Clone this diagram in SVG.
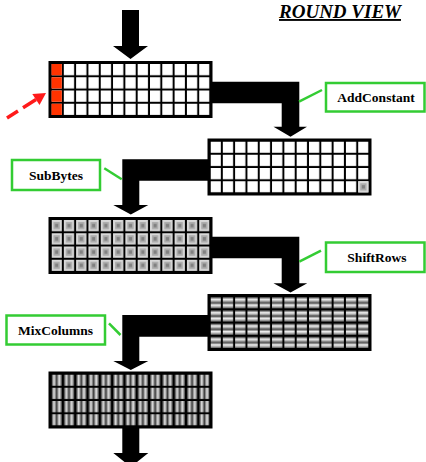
<svg xmlns="http://www.w3.org/2000/svg" width="426" height="462" viewBox="0 0 426 462">
<style>
.lbl{fill:#fff;stroke:#33cc33;stroke-width:2.5}
.lt{font-family:"Liberation Serif","Times New Roman",serif;font-weight:bold;font-size:13.5px;fill:#000;text-anchor:middle}
.lead{stroke:#33cc33;stroke-width:2.5}
.conn{fill:#000}
</style>
<defs>
<linearGradient id="gh" x1="0" y1="0" x2="0" y2="1">
<stop offset="0" stop-color="#333"/><stop offset="0.22" stop-color="#f4f4f4"/><stop offset="0.45" stop-color="#808080"/><stop offset="0.5" stop-color="#333"/><stop offset="0.72" stop-color="#f4f4f4"/><stop offset="1" stop-color="#707070"/>
</linearGradient>
<linearGradient id="gv" x1="0" y1="0" x2="1" y2="0">
<stop offset="0" stop-color="#2a2a2a"/><stop offset="0.25" stop-color="#eaeaea"/><stop offset="0.5" stop-color="#3a3a3a"/><stop offset="0.75" stop-color="#eaeaea"/><stop offset="1" stop-color="#555"/>
</linearGradient>
<g id="sbox">
<rect width="10.31" height="11.25" fill="#d8d8d8"/>
<rect x="2" y="2" width="6.31" height="7.25" fill="#aaa"/>
<rect x="3.6" y="3.9" width="3.1" height="3.4" fill="#808080"/>
</g>
<pattern id="pw" patternUnits="userSpaceOnUse" x="3" y="3" width="12.31" height="13.25">
<rect width="10.31" height="11.25" fill="#fff"/>
</pattern>
<pattern id="ps" patternUnits="userSpaceOnUse" x="3" y="3" width="12.31" height="13.25">
<use href="#sbox"/>
</pattern>
<pattern id="ph" patternUnits="userSpaceOnUse" x="3" y="3" width="12.31" height="13.25">
<rect width="10.31" height="11.25" fill="url(#gh)"/>
</pattern>
<pattern id="pv" patternUnits="userSpaceOnUse" x="3" y="3" width="12.31" height="13.25">
<rect width="10.31" height="11.25" fill="url(#gv)"/>
</pattern>
</defs>
<rect width="426" height="462" fill="#fff"/>

<text x="340" y="18" font-family="'Liberation Serif','Times New Roman',serif" font-weight="bold" font-style="italic" font-size="19" text-anchor="middle" text-decoration="underline">ROUND VIEW</text>

<g id="connectors">
<polygon class="conn" points="122,10 139,10 139,46 148,46 130.5,59 113,46 122,46"/>
<polygon class="conn" points="210,81.7 299.3,81.7 299.3,126.7 307,126.7 290.5,136.7 273.5,126.7 281.7,126.7 281.7,103.3 210,103.3"/>
<polygon class="conn" points="209,159.3 122.3,159.3 122.3,205 113.3,205 130.8,214.5 148.3,205 139.3,205 139.3,180.7 209,180.7"/>
<polygon class="conn" points="210,236.7 299.3,236.7 299.3,283.3 307.3,283.3 290.5,292.5 273.5,283.3 281.7,283.3 281.7,258.3 210,258.3"/>
<polygon class="conn" points="209,315 122.3,315 122.3,361 113.3,361 130.8,370 148.3,361 139.3,361 139.3,336.7 209,336.7"/>
<polygon class="conn" points="122.3,427 139.3,427 139.3,453 148.3,453 130.8,467 113.3,453 122.3,453"/>
<line class="lead" x1="299" y1="101.7" x2="322" y2="90"/>
<line class="lead" x1="104.3" y1="168.3" x2="121.7" y2="179.3"/>
<line class="lead" x1="299.3" y1="261.7" x2="321" y2="250.7"/>
<line class="lead" x1="109" y1="323.3" x2="120.5" y2="335"/>
<line x1="7" y1="118" x2="36" y2="99.5" stroke="#ff1a1a" stroke-width="3.5" stroke-dasharray="13 6 16"/>
<polygon points="46,93 39.5,105 32.3,94" fill="#ff1a1a"/>
</g>

<g id="state0" transform="translate(48.5,61)">
<rect width="164" height="57" fill="#000"/>
<rect x="3" y="3" width="158" height="51" fill="url(#pw)"/>
<rect x="3" y="3" width="10.31" height="11.25" fill="#ff3300"/>
<rect x="3" y="16.25" width="10.31" height="11.25" fill="#ff3300"/>
<rect x="3" y="29.5" width="10.31" height="11.25" fill="#ff3300"/>
<rect x="3" y="42.75" width="10.31" height="11.25" fill="#ff3300"/>
</g>
<g id="state1" transform="translate(207.5,138.5)">
<rect width="164" height="57" fill="#000"/>
<rect x="3" y="3" width="158" height="51" fill="url(#pw)"/>
<use href="#sbox" x="150.72" y="42.75"/>
</g>
<g id="state2" transform="translate(48.5,217)">
<rect width="164" height="57" fill="#000"/>
<rect x="3" y="3" width="158" height="51" fill="url(#ps)"/>
</g>
<g id="state3" transform="translate(207.5,294)">
<rect width="164" height="57" fill="#000"/>
<rect x="3" y="3" width="158" height="51" fill="url(#ph)"/>
</g>
<g id="state4" transform="translate(48.5,371.5)">
<rect width="164" height="57" fill="#000"/>
<rect x="3" y="3" width="158" height="51" fill="url(#pv)"/>
</g>

<g id="lbl-addconstant">
<rect class="lbl" x="326" y="83" width="98.5" height="28.5"/>
<text class="lt" x="376" y="101.5">AddConstant</text>
</g>
<g id="lbl-subbytes">
<rect class="lbl" x="12" y="160" width="88" height="30"/>
<text class="lt" x="56" y="179.5">SubBytes</text>
</g>
<g id="lbl-shiftrows">
<rect class="lbl" x="326" y="242.5" width="98.5" height="29.5"/>
<text class="lt" x="377" y="261.5">ShiftRows</text>
</g>
<g id="lbl-mixcolumns">
<rect class="lbl" x="6.5" y="315.5" width="98.5" height="29"/>
<text class="lt" x="55.5" y="334.5">MixColumns</text>
</g>
</svg>
